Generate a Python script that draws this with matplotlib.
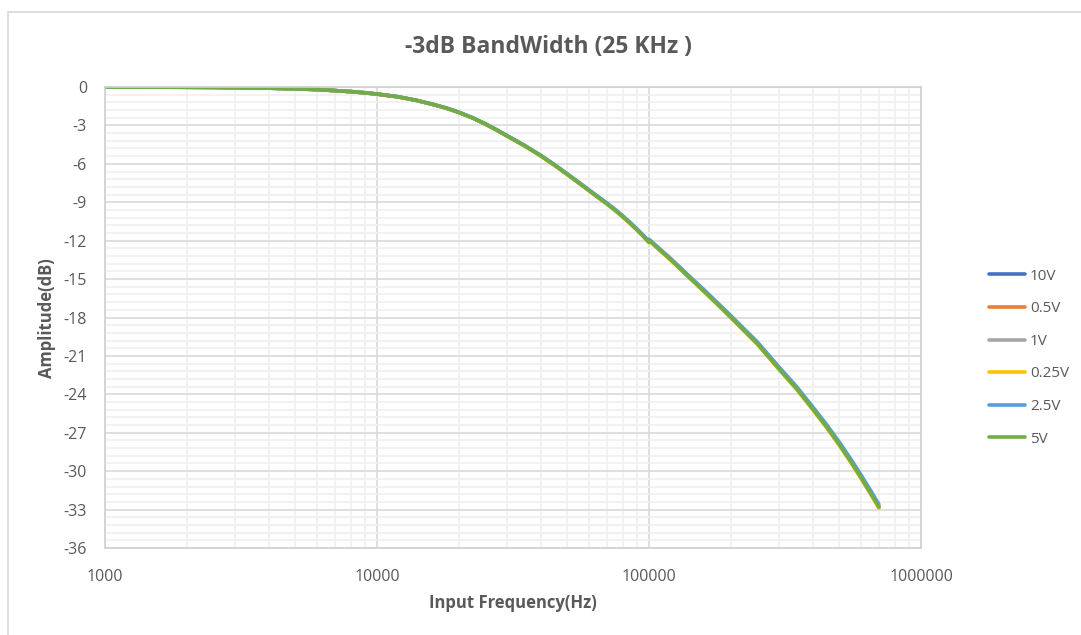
import matplotlib
matplotlib.use("Agg")
import matplotlib.pyplot as plt
from matplotlib.patches import Rectangle
from matplotlib.ticker import FixedLocator, NullFormatter, FixedFormatter
import numpy as np

# ---- data ----
freq = [1000, 1500, 2000, 2500, 3000, 4000, 5000, 6000, 7000, 8000, 9000,
        10000, 12000, 14000, 16000, 18000, 20000, 22500, 25000, 27500,
        30000, 35000, 40000, 45000, 50000, 55000, 60000, 65000, 70000,
        75000, 80000, 85000, 90000, 95000, 100000, 100000, 120000, 140000,
        160000, 180000, 200000, 250000, 300000, 350000, 400000, 450000,
        500000, 550000, 600000, 650000, 700000]

amp_10v = [0.0, -0.01, -0.02, -0.03, -0.05, -0.09, -0.14, -0.2, -0.28, -0.36, -0.45,
           -0.55, -0.77, -1.05, -1.35, -1.65, -1.98, -2.42, -2.88, -3.35,
           -3.8, -4.6, -5.36, -6.1, -6.8, -7.45, -8.05, -8.6, -9.1,
           -9.6, -10.1, -10.6, -11.1, -11.6, -12.1, -11.95, -13.45, -14.8,
           -15.95, -17.0, -17.95, -20.0, -21.95, -23.55, -25.1, -26.5,
           -27.85, -29.15, -30.4, -31.6, -32.75]
amp_05v = [round(v * 1.002, 3) for v in amp_10v]
amp_1v = [round(v * 1.001, 3) for v in amp_10v]
amp_025v = [round(v * 1.004, 3) for v in amp_10v]
amp_25v = [round(v * 0.995, 3) for v in amp_10v]
amp_5v = [round(v * 1.002, 3) for v in amp_10v]

series_labels = ["10V", "0.5V", "1V", "0.25V", "2.5V", "5V"]
series_values = [amp_10v, amp_05v, amp_1v, amp_025v, amp_25v, amp_5v]
series_colors = ["#4472C4", "#ED7D31", "#A5A5A5", "#FFC000", "#5B9BD5", "#70AD47"]

y_ticks = list(range(0, -37, -3))
x_ticks = [1000, 10000, 100000, 1000000]
x_tick_labels = ["1000", "10000", "100000", "1000000"]

title = "-3dB BandWidth (25 KHz )"
xlabel = "Input Frequency(Hz)"
ylabel = "Amplitude(dB)"

# ---- figure ----
W, H = 1081, 635
fig = plt.figure(figsize=(W / 100, H / 100), dpi=100)
font = "Open Sans"
txt_color = "#595959"

# chart border
fig.patches.append(Rectangle((8 / W, -0.1), 1.2, 1 - 12 / H + 0.1,
                             transform=fig.transFigure, fill=False,
                             edgecolor="#D9D9D9", linewidth=1.2))

ax = fig.add_axes([105 / W, 1 - 548 / H, (921 - 105) / W, (548 - 87) / H])

for lab, vals, col in zip(series_labels, series_values, series_colors):
    ax.plot(freq, vals, color=col, linewidth=2.6, label=lab,
            solid_capstyle="round", solid_joinstyle="round")

ax.set_xscale("log")
ax.set_xlim(1000, 1000000)
ax.set_ylim(-36, 0)

ax.xaxis.set_major_locator(FixedLocator(x_ticks))
ax.xaxis.set_major_formatter(FixedFormatter(x_tick_labels))
minor_x = [m * 10 ** e for e in range(3, 6) for m in range(2, 10)]
ax.xaxis.set_minor_locator(FixedLocator(minor_x))
ax.xaxis.set_minor_formatter(NullFormatter())

ax.set_yticks(y_ticks)
ax.set_yticklabels([str(t) for t in y_ticks])
ax.yaxis.set_minor_locator(FixedLocator(np.arange(-36, 0.01, 0.6)))

ax.grid(which="major", color="#D9D9D9", linewidth=1.2)
ax.grid(which="minor", color="#F0F0F0", linewidth=1.2)
ax.set_axisbelow(True)
ax.tick_params(which="both", length=0)
ax.tick_params(axis="y", pad=13, labelsize=11.5, labelcolor=txt_color)
ax.tick_params(axis="x", pad=15, labelsize=11.5, labelcolor=txt_color)
for lbl in ax.get_xticklabels() + ax.get_yticklabels():
    lbl.set_fontfamily(font)
for sp in ax.spines.values():
    sp.set_color("#D0D0D0")
    sp.set_linewidth(1.2)

fig.text(548 / W, 1 - 47 / H, title, ha="center", va="center",
         fontsize=16.5, fontweight="bold", color=txt_color, family=font)
fig.text(513 / W, 1 - 603 / H, xlabel, ha="center", va="center",
         fontsize=12, fontweight="bold", color=txt_color, family=font)
fig.text(47 / W, 1 - 318 / H, ylabel, ha="center", va="center", rotation=90,
         fontsize=12, fontweight="bold", color=txt_color, family=font)

leg = fig.legend(loc="upper left", bbox_to_anchor=(975 / W, 1 - 255 / H),
                 frameon=False, handlelength=2.4, handletextpad=0.3,
                 labelspacing=1.15, prop={"family": font, "size": 11})
for t in leg.get_texts():
    t.set_color(txt_color)

fig.savefig("out.png", dpi=100)
